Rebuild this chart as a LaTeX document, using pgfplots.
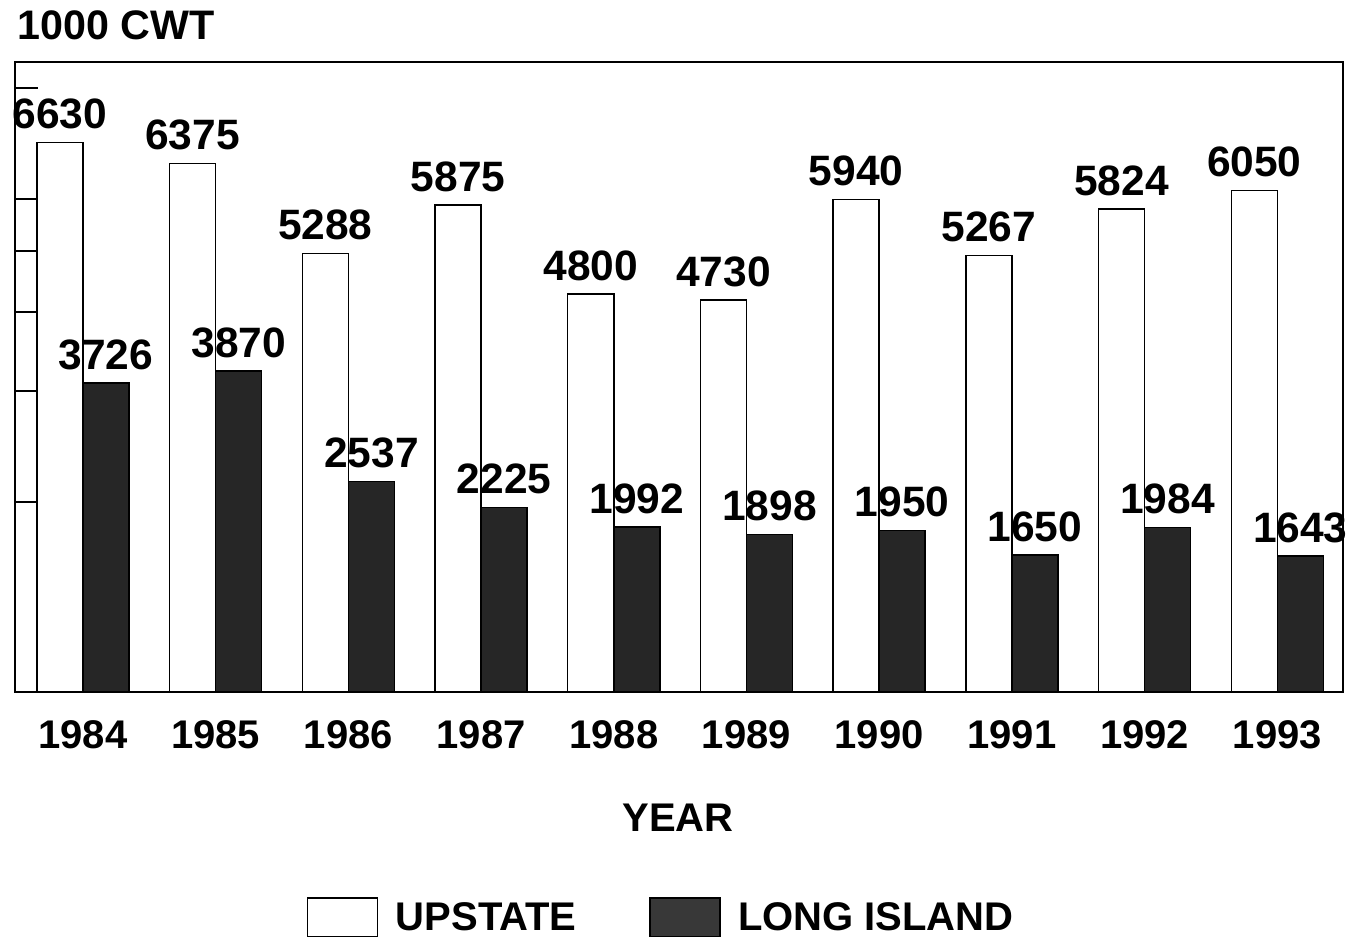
\documentclass[border=0pt]{standalone}
\usepackage{pgfplots}
\pgfplotsset{compat=1.18}
\usepackage{fontspec}
\setmainfont{Liberation Sans}
\begin{document}
\begin{tikzpicture}
\begin{axis}[
  name=ax, at={(0,0)}, anchor=south west,
  scale only axis, width=531.2pt, height=252pt,
  xmin=-0.512, xmax=9.495, ymin=0, ymax=7600,
  axis line style={line width=0.8pt},
  ybar=0pt, bar width=0.347,
  xtick={0,1,2,3,4,5,6,7,8,9},
  xticklabels={1984,1985,1986,1987,1988,1989,1990,1991,1992,1993},
  x tick style={draw=none},
  x tick label style={font=\fontsize{16}{19}\selectfont\bfseries, yshift=-8pt},
  ytick={2292,3632,4584,5320,5948,7288},
  yticklabels={},
  ytick pos=left, tick align=inside,
  y tick style={line width=0.7pt, black},
  major tick length=9pt,
  /pgf/number format/assume math mode=true,
  nodes near coords={\pgfmathprintnumber[1000 sep={}]{\pgfplotspointmeta}},
  every node near coord/.append style={font=\fontsize{17}{20}\selectfont\bfseries, inner sep=0pt, yshift=5pt},
  legend style={at={(axis description cs:0.5,0)}, anchor=center, yshift=-90.4pt, xshift=-6.5pt, draw=none, fill=none,
    legend columns=2, font=\fontsize{16}{19}\selectfont\bfseries,
    /tikz/every odd column/.append style={column sep=5pt},
    /tikz/every even column/.append style={column sep=27pt}},
]
\addplot[draw=black, fill=white, line width=0.6pt,
  legend image code/.code={\draw[draw=black, fill=white, line width=0.6pt] (0pt,-7.5pt) rectangle (28pt,8pt);}]
  coordinates {(0,6630) (1,6375) (2,5288) (3,5875) (4,4800) (5,4730) (6,5940) (7,5267) (8,5824) (9,6050)};
\addlegendentry{UPSTATE}
\addplot[draw=black, fill=black!85, line width=0.6pt,
  legend image code/.code={\draw[draw=black, fill=black!78, line width=0.6pt] (0pt,-7.5pt) rectangle (28pt,8pt);}]
  coordinates {(0,3726) (1,3870) (2,2537) (3,2225) (4,1992) (5,1898) (6,1950) (7,1650) (8,1984) (9,1643)};
\addlegendentry{LONG ISLAND}
\end{axis}
\node[anchor=west, font=\fontsize{16.5}{19}\selectfont\bfseries] at ([shift={(-2.4pt,266.8pt)}]ax.south west) {1000 CWT};
\node[anchor=center, font=\fontsize{16}{19}\selectfont\bfseries] at ([shift={(265.2pt,-50.4pt)}]ax.south west) {YEAR};
\pgfresetboundingbox
\useasboundingbox ([shift={(-6pt,-100pt)}]ax.south west) rectangle ([shift={(532.8pt,276.8pt)}]ax.south west);
\end{tikzpicture}
\end{document}
